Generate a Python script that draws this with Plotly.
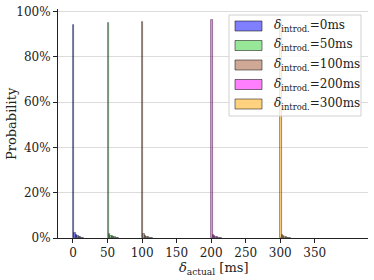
import plotly.graph_objects as go

delays = [0, 50, 100, 200, 300]
labels = ["0ms", "50ms", "100ms", "200ms", "300ms"]
bin_width = 2.0
offsets = [0, 2, 4, 6, 8, 10, 12, 14]
probs_0 = [0.941, 0.020, 0.013, 0.008, 0.005, 0.003, 0.002, 0.001]
probs_50 = [0.950, 0.017, 0.011, 0.007, 0.004, 0.003, 0.002, 0.001]
probs_100 = [0.954, 0.016, 0.010, 0.006, 0.004, 0.002, 0.001, 0.001]
probs_200 = [0.963, 0.013, 0.009, 0.005, 0.003, 0.002, 0.001, 0.001]
probs_300 = [0.960, 0.014, 0.009, 0.005, 0.003, 0.002, 0.001, 0.001]
all_probs = [probs_0, probs_50, probs_100, probs_200, probs_300]
colors = ["rgba(0,0,255,0.5)", "rgba(50,205,50,0.5)", "rgba(160,82,45,0.5)",
          "rgba(255,0,255,0.5)", "rgba(255,165,0,0.5)"]
edge = "rgba(0,0,0,0.5)"

FONT = "DejaVu Serif"
TXT = "#222"

# plot area in pixels: x 58..368, y 9..238
L, R, T, B = 58, 368, 9, 238
W, H = R - L, B - T


def px(x):
    return (x - L) / W


def py(y):
    return (B - y) / H


fig = go.Figure()
for d, lab, probs, col in zip(delays, labels, all_probs, colors):
    fig.add_trace(go.Bar(
        x=[d + o + bin_width / 2 for o in offsets],
        y=probs,
        width=bin_width,
        marker=dict(color=col, line=dict(color=edge, width=0.8)),
        name=f"δ introd.={lab}",
        showlegend=False,
    ))

shapes = []
annotations = []
# legend box
shapes.append(dict(type="rect", xref="paper", yref="paper",
                   x0=px(229), x1=px(361), y0=py(116), y1=py(15),
                   fillcolor="rgba(255,255,255,0.8)",
                   line=dict(color="#d0d0d0", width=1), layer="above"))
row_y = [26, 45.5, 65, 84.5, 104]
for ry, lab, col in zip(row_y, labels, colors):
    shapes.append(dict(type="rect", xref="paper", yref="paper",
                       x0=px(235), x1=px(262), y0=py(ry + 5), y1=py(ry - 5),
                       fillcolor=col, line=dict(color=edge, width=1), layer="above"))
    annotations.append(dict(xref="paper", yref="paper", x=px(272), y=py(ry),
                            xanchor="left", yanchor="middle", showarrow=False,
                            text=f"<i>δ</i><sub>introd.</sub>={lab}",
                            font=dict(family=FONT, size=12, color=TXT)))

annotations.append(dict(xref="paper", yref="paper", x=px(12), y=py(124),
                        xanchor="center", yanchor="middle", showarrow=False,
                        textangle=-90, text="Probability",
                        font=dict(family=FONT, size=13, color=TXT)))
annotations.append(dict(xref="paper", yref="paper", x=0.5, y=py(268),
                        xanchor="center", yanchor="middle", showarrow=False,
                        text="<i>δ</i><sub>actual</sub> [ms]",
                        font=dict(family=FONT, size=13, color=TXT)))

fig.update_layout(
    width=374, height=280,
    margin=dict(l=L, r=374 - R, t=T, b=280 - B),
    barmode="overlay",
    bargap=0,
    plot_bgcolor="white",
    paper_bgcolor="white",
    font=dict(family=FONT, size=12, color=TXT),
    showlegend=False,
    shapes=shapes,
    annotations=annotations,
    xaxis=dict(
        range=[-21.7, 427],
        tickvals=[0, 50, 100, 150, 200, 250, 300, 350],
        ticks="outside", ticklen=4, tickcolor=TXT,
        showline=True, linecolor=TXT, linewidth=1,
        showgrid=False, zeroline=False, automargin=False,
    ),
    yaxis=dict(
        range=[0, 1.011],
        tickvals=[0, 0.2, 0.4, 0.6, 0.8, 1.0],
        tickformat=".0%",
        ticks="outside", ticklen=4, tickcolor=TXT,
        showline=True, linecolor=TXT, linewidth=1,
        showgrid=True, gridcolor="#dcdcdc", gridwidth=1,
        zeroline=False, automargin=False,
    ),
)

fig.write_html("out.html",
               config={"displayModeBar": False},
               post_script="document.body.style.margin='0';document.body.style.padding='0';")
